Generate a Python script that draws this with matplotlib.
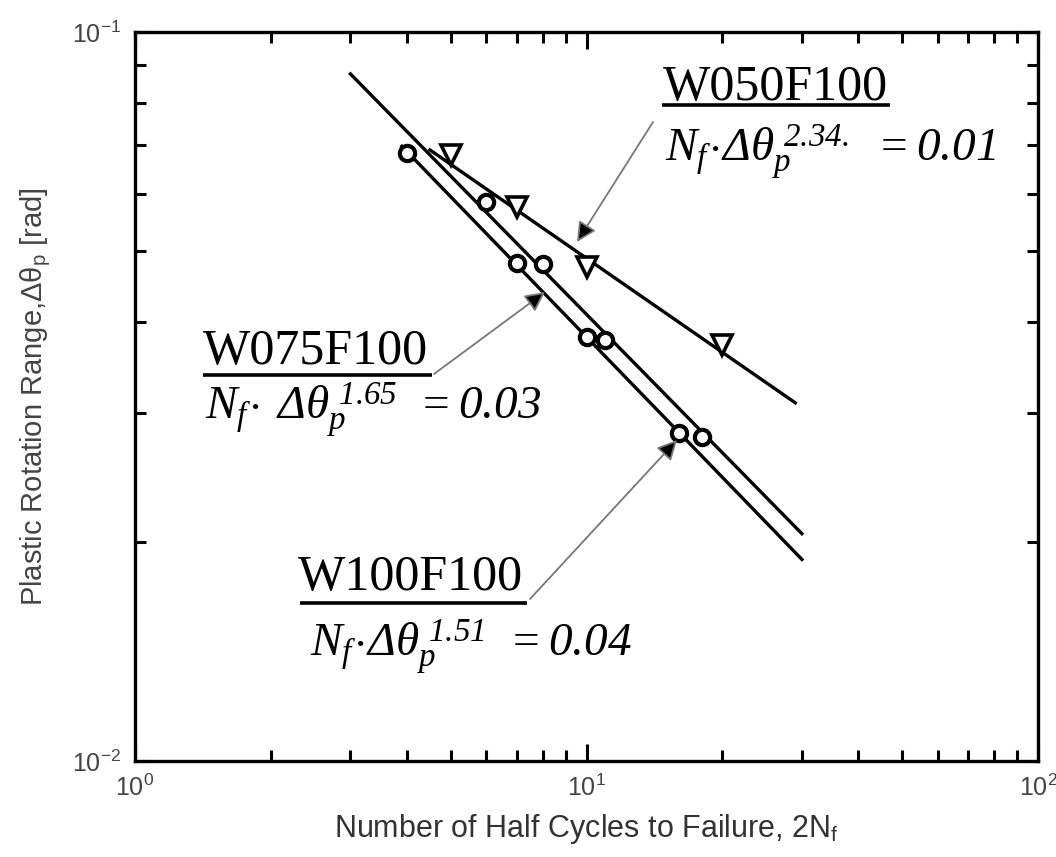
import matplotlib
matplotlib.use("Agg")
import matplotlib.pyplot as plt
from matplotlib.ticker import LogLocator, NullFormatter

# italic serif for the formula text (digits included)
plt.rcParams['mathtext.fontset'] = 'custom'
plt.rcParams['mathtext.rm'] = 'Liberation Serif:italic'
plt.rcParams['mathtext.it'] = 'Liberation Serif:italic'
plt.rcParams['mathtext.bf'] = 'Liberation Serif:bold'
plt.rcParams['mathtext.sf'] = 'Liberation Sans'
plt.rcParams['font.family'] = ['Liberation Sans', 'DejaVu Sans']

# test data
tri_n = [5, 7, 10, 20]
tri_rot = [0.0678, 0.0575, 0.0476, 0.0372]

w100_n = [4, 8, 10, 16]
w100_rot = [0.0682, 0.0481, 0.0382, 0.0282]
w075_n = [6, 7, 11, 18]
w075_rot = [0.0585, 0.0482, 0.0378, 0.0278]

# fitted lines (end points)
fit050_n = [4.5, 29]
fit050_rot = [0.0689, 0.0310]
fit075_n = [3, 30]
fit075_rot = [0.0876, 0.0205]
fit100_n = [3.9, 30]
fit100_rot = [0.0697, 0.0189]

labels = ['W050F100', 'W075F100', 'W100F100']
formulas = [r'$N_f\!\cdot\!\Delta\theta_p^{\;2.34.}\;\, = 0.01$',
            r'$N_f\!\cdot\;\Delta\theta_p^{\;1.65}\;\, = 0.03$',
            r'$N_f\!\cdot\!\Delta\theta_p^{\;1.51}\;\, = 0.04$']

fig = plt.figure(figsize=(10.56, 8.57), dpi=100)
W, H = 1056, 857
x0, x1, y0, y1 = 135, 1038, 32, 761
ax = fig.add_axes([x0 / W, 1 - y1 / H, (x1 - x0) / W, (y1 - y0) / H])


def af(x, y):
    # pixel position -> axes fraction
    return ((x - x0) / (x1 - x0), (y1 - y) / (y1 - y0))


ax.plot(fit050_n, fit050_rot, color='black', lw=2.4)
ax.plot(fit075_n, fit075_rot, color='black', lw=2.4)
ax.plot(fit100_n, fit100_rot, color='black', lw=2.4)

ax.plot(tri_n, tri_rot, linestyle='none', marker='v', ms=15, mfc='white', mec='black', mew=2.6)
ax.plot(w100_n, w100_rot, linestyle='none', marker='o', ms=11, mfc='white', mec='black', mew=3)
ax.plot(w075_n, w075_rot, linestyle='none', marker='o', ms=11, mfc='white', mec='black', mew=3)

ax.set_xscale('log')
ax.set_yscale('log')
ax.set_xlim(1, 100)
ax.set_ylim(0.01, 0.1)
ax.xaxis.set_major_locator(LogLocator(base=10, numticks=5))
ax.yaxis.set_major_locator(LogLocator(base=10, numticks=5))
ax.xaxis.set_minor_locator(LogLocator(base=10, subs=range(2, 10), numticks=20))
ax.yaxis.set_minor_locator(LogLocator(base=10, subs=range(2, 10), numticks=20))
ax.yaxis.set_minor_formatter(NullFormatter())
ax.xaxis.set_minor_formatter(NullFormatter())
ax.tick_params(which='both', direction='in', top=True, right=True, width=2.2,
               labelsize=18, labelcolor='#444444')
ax.tick_params(which='major', length=12, pad=10)
ax.tick_params(which='minor', length=8)
for s in ax.spines.values():
    s.set_linewidth(2.4)

ax.set_xlabel(r'Number of Half Cycles to Failure, 2N$_\mathsf{f}$', fontsize=22, color='#333333', labelpad=8)
ax.set_ylabel(r'Plastic Rotation Range,$\mathsf{\Delta\theta_p}$ [rad]', fontsize=21, color='#444444', labelpad=14)

# annotations: title, underline, formula, arrow
title_pos = [(663, 88), (203, 352), (298, 578)]
under = [(662, 890, 105), (203, 432, 375), (300, 527, 603)]
form_pos = [(665, 152), (205, 410), (310, 647)]
arrows = [((653, 122), (577, 242)), ((434, 374), (545, 292)), ((530, 599), (677, 440))]

for i in range(3):
    ax.text(*af(*title_pos[i]), labels[i], transform=ax.transAxes, fontsize=36,
            family='Liberation Serif', ha='left', va='center')
    xa, xb, yu = under[i]
    ax.plot([af(xa, yu)[0], af(xb, yu)[0]], [af(xa, yu)[1]] * 2, transform=ax.transAxes,
            color='black', lw=2.6, solid_capstyle='butt')
    ax.text(*af(*form_pos[i]), formulas[i], transform=ax.transAxes, fontsize=34,
            ha='left', va='center')
    (sx, sy), (tx, ty) = arrows[i]
    ax.annotate('', xy=af(tx, ty), xycoords='axes fraction', xytext=af(sx, sy),
                textcoords='axes fraction',
                arrowprops=dict(arrowstyle='-|>', lw=1.3, ec='#777777', fc='black',
                                mutation_scale=30, shrinkA=0, shrinkB=0))

fig.savefig('out.png', dpi=100, facecolor='white')
